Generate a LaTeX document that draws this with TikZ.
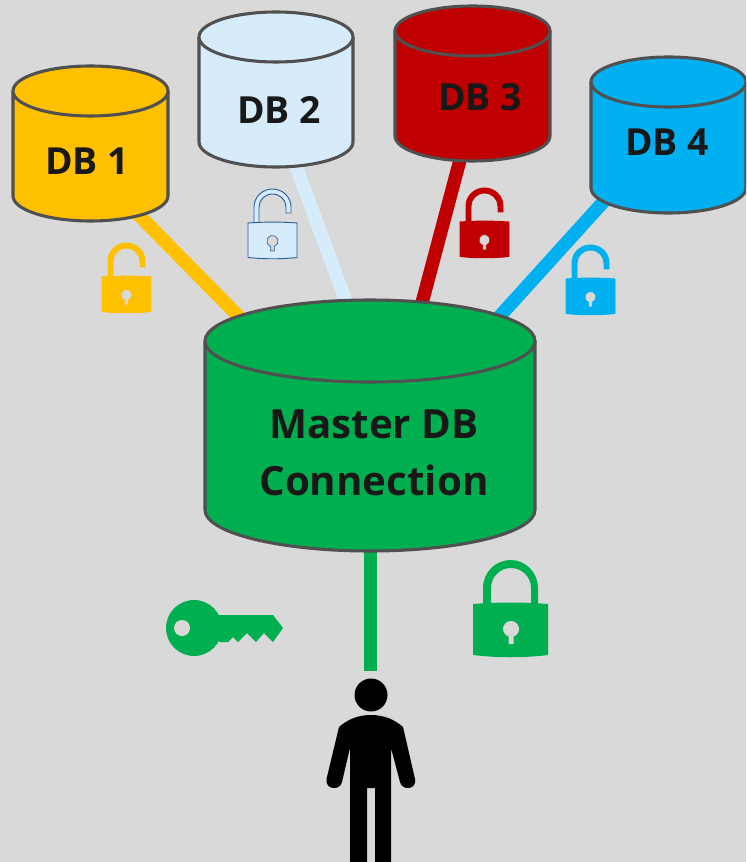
\documentclass[tikz,border=0pt]{standalone}
\usepackage{fontspec}
\setmainfont{Open Sans}
\definecolor{bgc}{HTML}{D9D9D9}
\definecolor{edgec}{HTML}{505050}
\definecolor{yel}{HTML}{FFC000}
\definecolor{pale}{HTML}{D6ECFB}
\definecolor{redc}{HTML}{C00000}
\definecolor{cyanc}{HTML}{00B0F0}
\definecolor{grn}{HTML}{00B050}
\definecolor{paleedge}{HTML}{2F5C9E}
\definecolor{txt}{HTML}{181818}
\tikzset{
  x=0.75pt,y=-0.75pt,
  cylbody/.style={draw=edgec,line width=2.3pt,line join=round},
  link/.style={line width=10pt},
  dblabel/.style={font=\bfseries\fontsize{28}{32}\selectfont,text=txt,inner sep=0pt},
  masterlabel/.style={font=\bfseries\fontsize{30.2}{43}\selectfont,text=txt,inner sep=0pt,align=center},
}
% name, left, right, top, bottom, ry, colour
\newcommand{\cylshape}[7]{%
  \pgfmathsetmacro{\rx}{(#3-#2)/2}%
  \pgfmathsetmacro{\cx}{(#3+#2)/2}%
  \pgfmathsetmacro{\cyt}{#4+#6}%
  \pgfmathsetmacro{\cyb}{#5-#6}%
  \fill[#7] (#2,\cyt) -- (#2,\cyb) arc[start angle=180,end angle=0,x radius=\rx,y radius=#6] -- (#3,\cyt) -- cycle;
  \draw[cylbody] (#2,\cyt) -- (#2,\cyb) arc[start angle=180,end angle=0,x radius=\rx,y radius=#6] -- (#3,\cyt);
  \draw[cylbody,fill=#7] (\cx,\cyt) ellipse[x radius=\rx,y radius=#6];
  \coordinate (#1) at (\cx,\cyt);
}
% x, y, fill, outline
\newcommand{\openlock}[4]{%
  \begin{scope}[shift={(#1,#2)}]
    \filldraw[fill=#3,draw=#4,line width=0.7pt,line join=round]
      (6,0) -- (6,-16) arc[start angle=180,end angle=360,x radius=18.5,y radius=18] -- (43,-10) -- (38,-10) -- (38,-16)
      arc[start angle=360,end angle=180,x radius=13.5,y radius=13] -- (11,0) -- cycle;
    \filldraw[fill=#3,draw=#4,line width=0.7pt,line join=round]
      (0,0) .. controls (16,-1.2) and (33,-1.2) .. (49,0) -- (49,34.5) .. controls (33,36.2) and (16,36.2) .. (0,34.5) -- cycle;
    \filldraw[fill=bgc,draw=#4,line width=0.5pt]
      (22.7,23.3) -- (22.7,28) -- (26.3,28) -- (26.3,23.3) arc[start angle=71,end angle=-251,x radius=5.6,y radius=5.6] -- cycle;
  \end{scope}}
\begin{document}
\begin{tikzpicture}
\useasboundingbox (0,0) rectangle (746,862);
\clip (0,0) rectangle (746,862);
\fill[bgc] (0,0) rectangle (746,862);

% anchors of the connectors
\coordinate (l1a) at (125,201);
\coordinate (l1b) at (250,328);
\coordinate (l2a) at (290,150);
\coordinate (l2b) at (350,312);
\coordinate (l3a) at (464,145);
\coordinate (l3b) at (418,318);
\coordinate (l4a) at (615,189);
\coordinate (l4b) at (490,327);
\coordinate (masterbase) at (370.5,540);
\coordinate (userend) at (370.5,671);

\draw[link,yel] (l1a) -- (l1b);
\draw[link,pale] (l2a) -- (l2b);
\draw[link,redc] (l3a) -- (l3b);
\draw[link,cyanc] (l4a) -- (l4b);
\draw[link,grn] (masterbase) -- (userend);

\cylshape{c1}{13}{168}{66}{221}{25}{yel}
\cylshape{c2}{199}{353}{12}{167}{25}{pale}
\cylshape{c3}{395}{550}{6}{161}{25}{redc}
\cylshape{c4}{591}{746}{57}{213}{25}{cyanc}
\cylshape{cm}{205}{535}{300}{551}{41}{grn}

\node[dblabel] (db1) at (87,161) {DB 1};
\node[dblabel] (db2) at (279,110) {DB 2};
\node[dblabel] (db3) at (480,97) {DB 3};
\node[dblabel] (db4) at (667,142) {DB 4};
\node[masterlabel] (master) at (374,453) {Master DB\\Connection};

\openlock{102}{277}{yel}{yel}
\openlock{248}{223}{pale}{paleedge}
\openlock{460}{222}{redc}{redc}
\openlock{566}{279}{cyanc}{cyanc}

% closed lock
\fill[grn]
  (483,606) -- (483,588) arc[start angle=180,end angle=360,x radius=27.5,y radius=28] -- (538,606) -- (531,606) -- (531,588)
  arc[start angle=360,end angle=180,x radius=20,y radius=20] -- (491,606) -- cycle;
\fill[grn] (473,604) .. controls (498,602) and (523,602) .. (548,604) -- (548,655) .. controls (523,658) and (498,658) .. (473,655) -- cycle;
\fill[bgc] (508.5,636.6) -- (508.5,644) -- (513.5,644) -- (513.5,636.6) arc[start angle=72,end angle=-252,x radius=8,y radius=8] -- cycle;

% key
\fill[grn] (219,615) -- (273,615) -- (283,628) -- (273,642) -- (264,633) -- (256,642) -- (247,633) -- (238,642) -- (233,637) -- (228,642) -- (219,642) -- cycle;
\fill[grn] (194,628) circle[radius=28];
\fill[bgc] (182,628) circle[radius=8];

% person
\fill[black] (371,695) circle[radius=16.5];
\fill[black] (371,715) .. controls (357,715) and (347,720) .. (339,727)
  -- (326.5,779) .. controls (325,790) and (340,791) .. (342,782)
  -- (350,748) -- (350,862) -- (367,862) -- (367,788) -- (375,788) -- (375,862) -- (391,862) -- (391,748)
  -- (400,782) .. controls (402,791) and (417,790) .. (415,779)
  -- (403,727) .. controls (395,720) and (385,715) .. (371,715) -- cycle;
\end{tikzpicture}
\end{document}
